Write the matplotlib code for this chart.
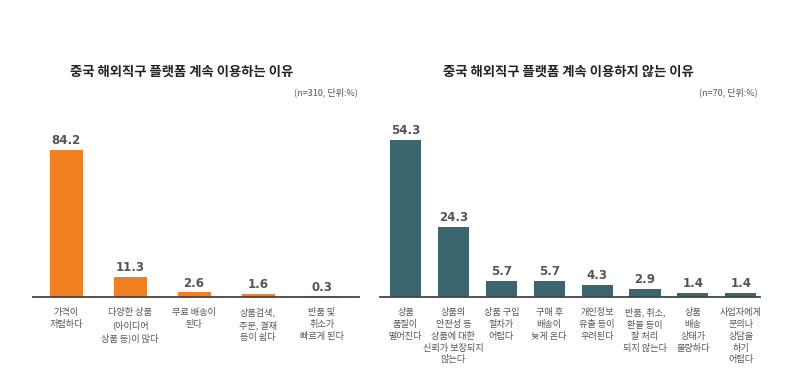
import matplotlib
matplotlib.use("Agg")
import matplotlib.pyplot as plt

plt.rcParams['font.family'] = ['Noto Sans CJK KR', 'DejaVu Sans']

left_title = "중국 해외직구 플랫폼 계속 이용하는 이유"
left_note = "(n=310, 단위:%)"
left_cats = ["가격이\n저렴하다", "다양한 상품\n(아이디어\n상품 등)이 많다", "무료 배송이\n된다",
             "상품검색,\n주문, 결재\n등이 쉽다", "반품 및\n취소가\n빠르게 된다"]
left_vals = [84.2, 11.3, 2.6, 1.6, 0.3]

right_title = "중국 해외직구 플랫폼 계속 이용하지 않는 이유"
right_note = "(n=70, 단위:%)"
right_cats = ["상품\n품질이\n떨어진다", "상품의\n안전성 등\n상품에 대한\n신뢰가 보장되지\n않는다",
              "상품 구입\n절차가\n어렵다", "구매 후\n배송이\n늦게 온다", "개인정보\n유출 등이\n우려된다",
              "반품, 취소,\n환불 등이\n잘 처리\n되지 않는다", "상품\n배송\n상태가\n불량하다",
              "사업자에게\n문의나\n상담을\n하기\n어렵다"]
right_vals = [54.3, 24.3, 5.7, 5.7, 4.3, 2.9, 1.4, 1.4]

W, H = 800, 386
fig = plt.figure(figsize=(8, 3.86), dpi=100)

def px_axes(x0, x1, ybase, ytop):
    return fig.add_axes([x0 / W, (H - ybase) / H, (x1 - x0) / W, (ybase - ytop) / H])

def draw(ax, cats, vals, color, xlim, ylim, width):
    xs = list(range(len(vals)))
    ax.bar(xs, vals, width=width, color=color, zorder=2)
    ax.set_xlim(*xlim)
    ax.set_ylim(0, ylim)
    for s in ['top', 'right', 'left']:
        ax.spines[s].set_visible(False)
    ax.spines['bottom'].set_color('#444444')
    ax.spines['bottom'].set_linewidth(1.3)
    ax.set_yticks([])
    ax.set_xticks(xs)
    ax.set_xticklabels(cats, fontsize=6.6, color='#555555', linespacing=1.4, va='top')
    ax.tick_params(axis='x', length=0, pad=8)
    for x, v in zip(xs, vals):
        ax.annotate(f"{v}", (x, v), xytext=(0, 2), textcoords='offset points',
                    ha='center', va='bottom', fontsize=8.5, fontweight='bold',
                    color='#555555', family=['DejaVu Sans'])

axL = px_axes(33, 359, 297, 120)
draw(axL, left_cats, left_vals, '#F47F20', (-0.516, 4.578), 101.4, 0.516)
axR = px_axes(380, 760, 297, 120)
draw(axR, right_cats, right_vals, '#3A6670', (-0.532, 7.40), 61.2, 0.65)

fig.text(182 / W, 1 - 72 / H, left_title, ha='center', va='center', fontsize=9.6,
         fontweight='bold', color='#222222')
fig.text(358 / W, 1 - 92 / H, left_note, ha='right', va='center', fontsize=6.5, color='#555555')
fig.text(568 / W, 1 - 72 / H, right_title, ha='center', va='center', fontsize=9.6,
         fontweight='bold', color='#222222')
fig.text(758 / W, 1 - 92 / H, right_note, ha='right', va='center', fontsize=6.5, color='#555555')

fig.savefig("out.png", dpi=100, facecolor='white')
